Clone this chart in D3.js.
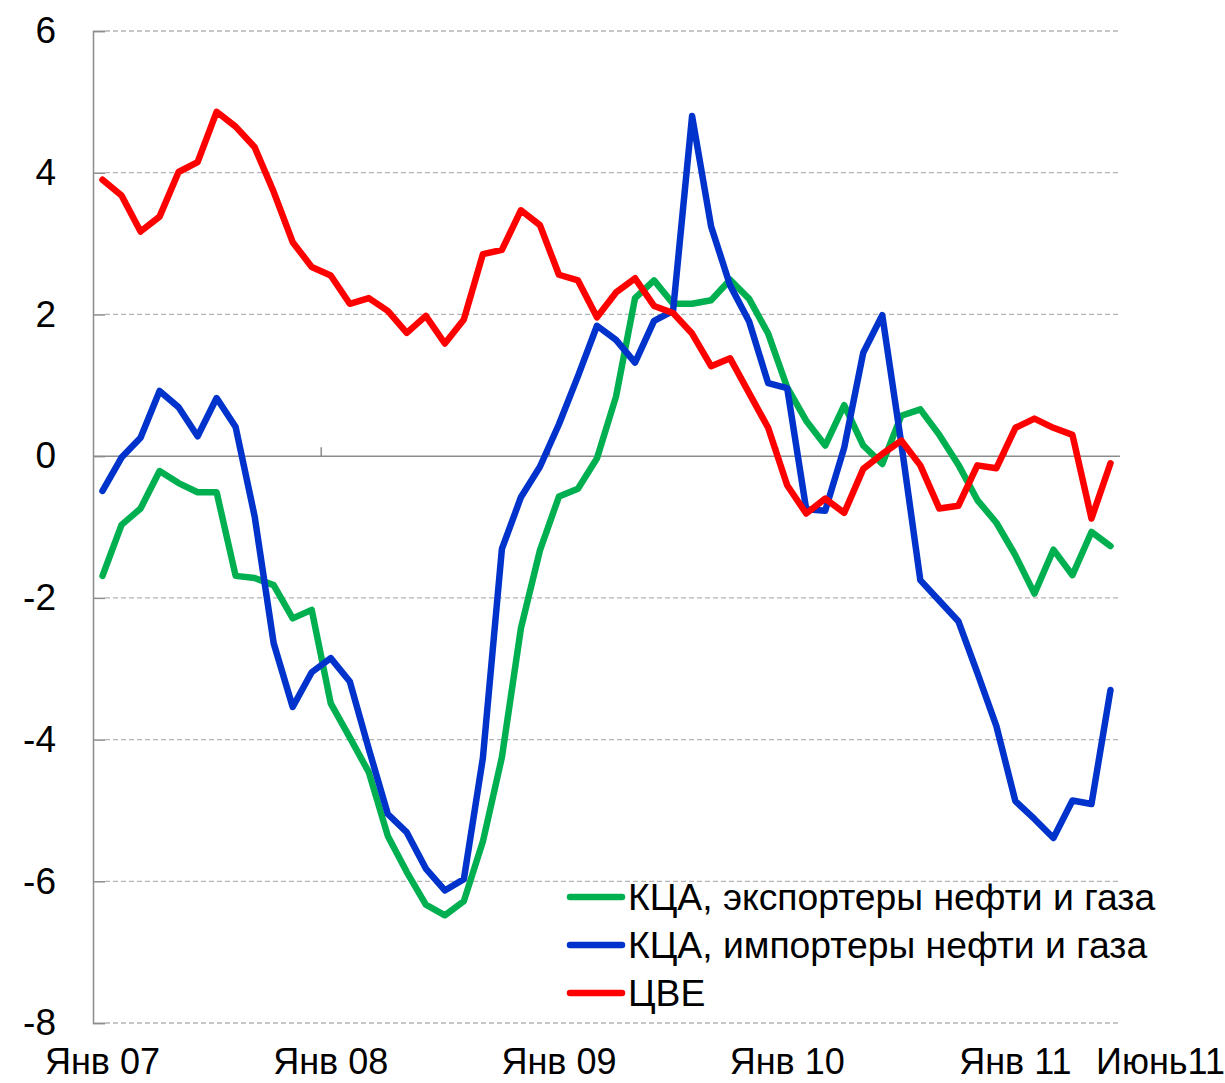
<!DOCTYPE html>
<html>
<head>
<meta charset="utf-8">
<script src="https://cdn.jsdelivr.net/npm/d3@7"></script>
<style>
  body { margin: 0; background: #fff; }
  text { font-family: "Liberation Sans", Arial, sans-serif; fill: #000; }
</style>
</head>
<body>
<div id="chart"></div>
<script>
// categories: monthly, Jan 2007 .. Jun 2011
const months = d3.timeMonths(new Date(2007, 0, 1), new Date(2011, 6, 1));

const tickIndex = [0, 12, 24, 36, 48, 53];
const tickLabels = ['Янв 07', 'Янв 08', 'Янв 09', 'Янв 10', 'Янв 11', 'Июнь11'];

const yTicks = [-8, -6, -4, -2, 0, 2, 4, 6];

const seriesNames = ['КЦА, экспортеры нефти и газа', 'КЦА, импортеры нефти и газа', 'ЦВЕ'];
const seriesColors = ['#00b050', '#0033cc', '#ff0000'];

const exporters = [
  -1.69, -0.97, -0.74, -0.21, -0.38, -0.51, -0.51, -1.69, -1.72, -1.82, -2.29, -2.17,
  -3.49, -3.97, -4.46, -5.36, -5.87, -6.33, -6.48, -6.28, -5.44, -4.25, -2.43, -1.33,
  -0.57, -0.46, -0.03, 0.84, 2.23, 2.48, 2.15, 2.15, 2.20, 2.49, 2.22, 1.73,
  0.97, 0.50, 0.15, 0.72, 0.15, -0.11, 0.57, 0.66, 0.30, -0.12, -0.62, -0.94,
  -1.40, -1.94, -1.32, -1.68, -1.07, -1.27
];
const importers = [
  -0.49, -0.02, 0.26, 0.92, 0.69, 0.28, 0.82, 0.41, -0.85, -2.64, -3.54, -3.05,
  -2.85, -3.18, -4.13, -5.05, -5.31, -5.82, -6.13, -5.97, -4.26, -1.31, -0.58, -0.15,
  0.45, 1.13, 1.84, 1.64, 1.32, 1.91, 2.05, 4.80, 3.24, 2.41, 1.90, 1.03,
  0.96, -0.75, -0.77, 0.12, 1.46, 1.99, 0.18, -1.75, -2.04, -2.33, -3.06, -3.81,
  -4.87, -5.12, -5.39, -4.86, -4.91, -3.30
];
const cve = [
  3.90, 3.68, 3.17, 3.38, 4.01, 4.15, 4.86, 4.65, 4.36, 3.73, 3.02, 2.67,
  2.55, 2.15, 2.23, 2.05, 1.74, 1.98, 1.59, 1.93, 2.85, 2.91, 3.47, 3.26,
  2.56, 2.48, 1.96, 2.31, 2.51, 2.12, 2.02, 1.73, 1.27, 1.38, 0.89, 0.40,
  -0.41, -0.81, -0.60, -0.80, -0.18, 0.03, 0.22, -0.13, -0.74, -0.70, -0.13, -0.17,
  0.40, 0.53, 0.40, 0.30, -0.88, -0.10
];

const series = [exporters, importers, cve];

const width = 1225, height = 1083;
const plot = { left: 93, right: 1120, top: 31, bottom: 1023 };

const svg = d3.select('#chart')
    .append('svg')
    .attr('width', width)
    .attr('height', height);

const x = d3.scaleBand()
    .domain(d3.range(months.length))
    .range([plot.left, plot.right])
    .padding(0);

const y = d3.scaleLinear()
    .domain([-8, 6])
    .range([plot.bottom, plot.top]);

const cx = i => x(i) + x.bandwidth() / 2;

// gridlines
svg.append('g')
    .selectAll('line')
    .data(yTicks.filter(d => d !== 0))
    .join('line')
    .attr('x1', plot.left + 12)
    .attr('x2', plot.right)
    .attr('y1', d => y(d))
    .attr('y2', d => y(d))
    .attr('stroke', '#b4b4b4')
    .attr('stroke-width', 1.3)
    .attr('stroke-dasharray', '5,3');

// y axis
const yAxis = svg.append('g')
    .attr('transform', `translate(${plot.left},0)`)
    .call(d3.axisLeft(y).tickValues(yTicks).tickSize(-12).tickPadding(37).tickFormat(d => String(d)));
yAxis.select('.domain').attr('stroke', '#8c8c8c').attr('stroke-width', 1.5);
yAxis.selectAll('.tick line').attr('stroke', '#8c8c8c').attr('stroke-width', 1.5);
yAxis.selectAll('.tick text')
    .attr('font-size', 37)
    .attr('font-family', '"Liberation Sans", Arial, sans-serif')
    .attr('fill', '#000');

// zero line with year ticks
const zeroAxis = svg.append('g')
    .attr('transform', `translate(0,${y(0)})`);
zeroAxis.append('line')
    .attr('x1', plot.left).attr('x2', plot.right)
    .attr('stroke', '#8c8c8c').attr('stroke-width', 1.5);
zeroAxis.selectAll('line.yr')
    .data(tickIndex.slice(1, 5))
    .join('line')
    .attr('class', 'yr')
    .attr('x1', d => x(d)).attr('x2', d => x(d))
    .attr('y1', 0).attr('y2', -9)
    .attr('stroke', '#8c8c8c').attr('stroke-width', 1.5);

// x labels at the bottom
svg.append('g')
    .selectAll('text')
    .data(tickIndex)
    .join('text')
    .attr('x', (d, i) => cx(d) + (i === tickIndex.length - 1 ? 50 : 0))
    .attr('y', 1074)
    .attr('text-anchor', 'middle')
    .attr('font-size', 36)
    .text((d, i) => tickLabels[i]);

// series lines
const line = d3.line()
    .x((d, i) => cx(i))
    .y(d => y(d));

svg.append('g')
    .selectAll('path')
    .data(series)
    .join('path')
    .attr('d', d => line(d))
    .attr('fill', 'none')
    .attr('stroke', (d, i) => seriesColors[i])
    .attr('stroke-width', 6.5)
    .attr('stroke-linejoin', 'round')
    .attr('stroke-linecap', 'round');

// legend
const legend = svg.append('g')
    .selectAll('g')
    .data(seriesNames)
    .join('g')
    .attr('transform', (d, i) => `translate(570,${897 + i * 48})`);
legend.append('line')
    .attr('x1', 0).attr('x2', 52)
    .attr('stroke', (d, i) => seriesColors[i])
    .attr('stroke-width', 6.5)
    .attr('stroke-linecap', 'round');
legend.append('text')
    .attr('x', 58)
    .attr('y', 13)
    .attr('font-size', 37.3)
    .text(d => d);
</script>
</body>
</html>
